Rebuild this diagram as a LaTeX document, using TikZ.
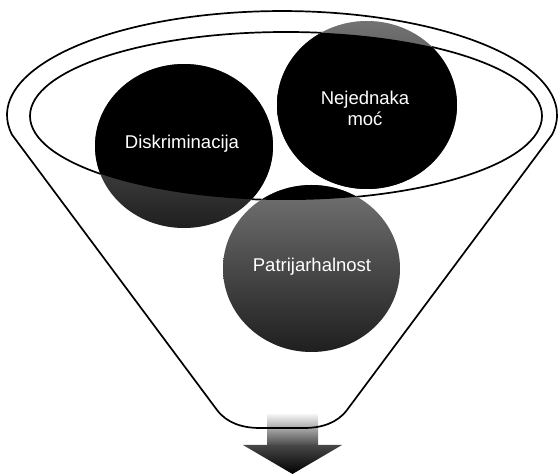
\documentclass[tikz,border=0pt]{standalone}
\usepackage{fontspec}
\setmainfont{Liberation Sans}
\tikzset{
  rim/.style={line width=1.7pt, line join=round},
  bubble/.style={top color=black!55, bottom color=black!88},
  glow/.style={fill=black!16},
  bubbletext/.style={text=white, align=center, font=\fontsize{18.5}{21}\selectfont}
}
\begin{document}
\begin{tikzpicture}[x=1pt,y=1pt]
  \useasboundingbox (0,0) rectangle (560,474);
  \coordinate (diskr) at (184,328);
  \coordinate (moc) at (367,369);
  \coordinate (patri) at (311.5,205.5);
  \coordinate (mouth) at (286,358);
  % arrow out of the funnel
  \shade[top color=black!6, bottom color=black!70] (267,59) rectangle (318,29);
  \shade[top color=black!72, bottom color=black] (243,29) -- (342,29) -- (292.5,0) -- cycle;
  % funnel
  \draw[rim] (12,339.3) arc[start angle=190.9, end angle=-10.9, x radius=275, y radius=104]
    -- (347,64) .. controls (337.4,51.2) and (322,46) .. (304,46) -- (260,46)
    .. controls (242,46) and (226.6,51.2) .. (217,64) -- cycle;
  \draw[rim] (mouth) ellipse[x radius=256, y radius=84];
  % circles
  \fill[glow, yshift=-2.5pt] (diskr) ellipse[x radius=89, y radius=82];
  \shade[bubble] (diskr) ellipse[x radius=89, y radius=82];
  \fill[glow, yshift=-2.5pt] (moc) ellipse[x radius=90, y radius=84];
  \shade[bubble] (moc) ellipse[x radius=90, y radius=84];
  \fill[glow, yshift=-2.5pt] (patri) ellipse[x radius=88.5, y radius=83.5];
  \shade[bubble] (patri) ellipse[x radius=88.5, y radius=83.5];
  \begin{scope}
    \clip (mouth) ellipse[x radius=256, y radius=84];
    \fill[black] (diskr) ellipse[x radius=89, y radius=82];
    \fill[black] (moc) ellipse[x radius=90, y radius=84];
    \fill[black] (patri) ellipse[x radius=88.5, y radius=83.5];
  \end{scope}
  \node[bubbletext] (diskrtext) at (182,330) {Diskriminacija};
  \node[bubbletext] (moctext) at (365,366) {Nejednaka\\moć};
  \node[bubbletext] (patritext) at (312,207) {Patrijarhalnost};
\end{tikzpicture}
\end{document}
